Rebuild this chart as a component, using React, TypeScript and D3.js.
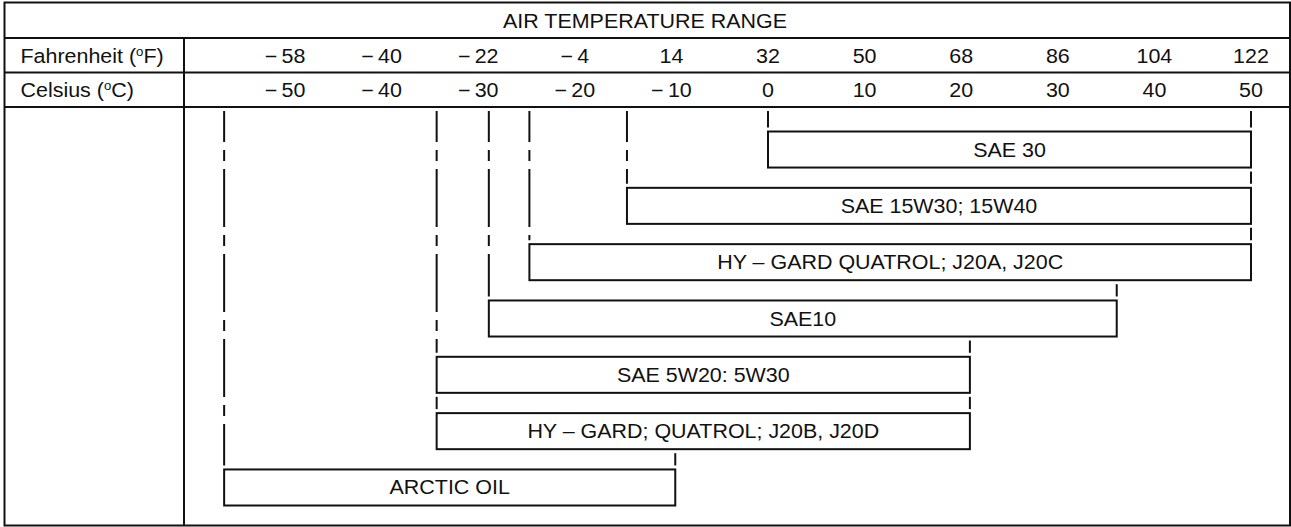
import React from "react";
import * as d3 from "d3";

const celsiusTicks = [-50, -40, -30, -20, -10, 0, 10, 20, 30, 40, 50];
const fahrenheitTicks = [-58, -40, -22, -4, 14, 32, 50, 68, 86, 104, 122];
const oils = [
  "SAE 30",
  "SAE 15W30; 15W40",
  "HY – GARD QUATROL; J20A, J20C",
  "SAE10",
  "SAE 5W20: 5W30",
  "HY – GARD; QUATROL; J20B, J20D",
  "ARCTIC OIL",
];
const minC = [0, -14.6, -24.7, -28.9, -34.3, -34.3, -56.3];
const maxC = [50, 50, 50, 36.1, 20.9, 20.9, -9.6];

const W = 1291;
const H = 527;
const FONT = "'Liberation Sans', Arial, Helvetica, sans-serif";
const FS = 19.5;
const SX = 1.1;
const INK = "#111";

const fmt = (v: number) => (v < 0 ? "\u2212\u2009" + Math.abs(v) : String(v));

function T(props: { x: number; y: number; anchor?: string; children: React.ReactNode; size?: number }) {
  const { x, y, anchor = "middle", children, size = FS } = props;
  return (
    <text
      transform={`translate(${x},${y}) scale(${SX},1)`}
      textAnchor={anchor}
      fontSize={size}
      fontFamily={FONT}
      fill={INK}
    >
      {children}
    </text>
  );
}

export default function App() {
  const x = d3.scaleLinear().domain([-50, 50]).range([285, 1251]);
  const y = d3.scaleBand<string>().domain(oils).range([131.5, 505.5]).paddingInner(0.36).paddingOuter(0);
  const bw = y.bandwidth();

  const frame = { l: 4.5, r: 1290, t: 2.5, b: 525.5 };
  const rowY = [38, 72.5, 107];
  const divX = 184;
  const lineTop = 111;

  const findStart = (i: number, px: number) => {
    for (let j = i - 1; j >= 0; j--) {
      const a = x(minC[j]);
      const b = x(maxC[j]);
      if (px >= a - 1 && px <= b + 1) return (y(oils[j]) as number) + bw + 4;
    }
    return lineTop;
  };

  const vlines: { x: number; y1: number; y2: number; key: string }[] = [];
  oils.forEach((o, i) => {
    const top = (y(o) as number) - 4;
    const lx = x(minC[i]);
    const rx = x(maxC[i]);
    vlines.push({ x: lx, y1: findStart(i, lx), y2: top, key: o + "L" });
    vlines.push({ x: rx, y1: findStart(i, rx), y2: top, key: o + "R" });
  });

  return (
    <svg width={W} height={H} style={{ position: "absolute", left: 0, top: 0, background: "#fff" }}>
      <rect x={0} y={0} width={W} height={H} fill="#fff" />
      {/* frame */}
      <rect
        x={frame.l}
        y={frame.t}
        width={frame.r - frame.l}
        height={frame.b - frame.t}
        fill="none"
        stroke={INK}
        strokeWidth={2}
      />
      {rowY.map((ry) => (
        <line key={ry} x1={frame.l} x2={frame.r} y1={ry} y2={ry} stroke={INK} strokeWidth={2} />
      ))}
      <line x1={divX} x2={divX} y1={rowY[0]} y2={frame.b} stroke={INK} strokeWidth={2} />

      {/* header */}
      <T x={645} y={28}>AIR TEMPERATURE RANGE</T>
      <T x={20.5} y={63} anchor="start">
        Fahrenheit (<tspan fontSize={12} dy={-7}>o</tspan>
        <tspan dy={7}>F)</tspan>
      </T>
      <T x={20.5} y={97} anchor="start">
        Celsius (<tspan fontSize={12} dy={-7}>o</tspan>
        <tspan dy={7}>C)</tspan>
      </T>
      {celsiusTicks.map((c, i) => (
        <g key={c}>
          <T x={x(c)} y={63}>{fmt(fahrenheitTicks[i])}</T>
          <T x={x(c)} y={97}>{fmt(c)}</T>
        </g>
      ))}

      {/* range lines */}
      {vlines.map((v) => (
        <line
          key={v.key}
          x1={v.x}
          x2={v.x}
          y1={v.y1}
          y2={v.y2}
          stroke={INK}
          strokeWidth={2}
          strokeDasharray="58 8 11 8"
          strokeDashoffset={27}
        />
      ))}

      {/* bars */}
      {oils.map((o, i) => {
        const x0 = x(minC[i]);
        const x1 = x(maxC[i]);
        const y0 = y(o) as number;
        return (
          <g key={o}>
            <rect x={x0} y={y0} width={x1 - x0} height={bw} fill="#fff" stroke={INK} strokeWidth={2} />
            <T x={(x0 + x1) / 2} y={y0 + bw / 2 + 7}>{o}</T>
          </g>
        );
      })}
    </svg>
  );
}
